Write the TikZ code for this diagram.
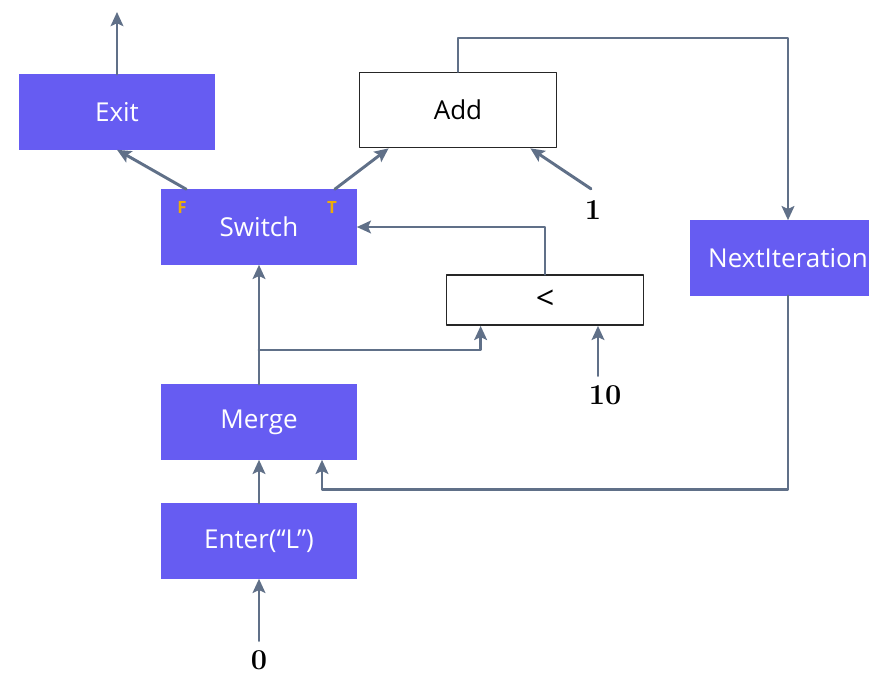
\documentclass[tikz,border=0pt]{standalone}
\usepackage{fontspec}
\setsansfont{Open Sans}
\usetikzlibrary{arrows.meta,calc}
\definecolor{opblue}{RGB}{102,92,242}
\definecolor{edgegray}{RGB}{96,112,136}
\definecolor{flaggold}{RGB}{236,172,10}
\begin{document}
\begin{tikzpicture}[x=0.025cm, y=-0.025cm, line join=round, line cap=round,
		font=\sffamily\fontsize{18.5}{22}\selectfont,
		>={Stealth[length=10pt, width=9pt, inset=2pt]},
		op/.style={fill=opblue, text=white, minimum width=4.875cm, minimum height=1.875cm, inner sep=0pt},
		box/.style={draw=black!85, line width=1.2pt, fill=white, minimum width=4.925cm, minimum height=1.875cm, inner sep=0pt},
		flag/.style={text=flaggold, font=\sffamily\bfseries\fontsize{12}{13}\selectfont, inner sep=0pt},
		num/.style={font=\rmfamily\bfseries\fontsize{20.5}{22}\selectfont, inner sep=1pt},
		edge/.style={->, draw=edgegray, line width=2.1pt}]
			\useasboundingbox (0,0) rectangle (869,685);
			% operations
			\node[op] (exit) at (117,112) {Exit};
			\node[box] (add) at (458,110) {Add};
			\node[op] (switch) at (259,227) {Switch};
			\node[flag] (fflag) at (182,207) {F};
			\node[flag] (tflag) at (332,207) {T};
			\node[op, minimum width=4.9cm] (next) at (788,258) {NextIteration};
			\node[box, minimum height=1.25cm, font=\sffamily\fontsize{23}{24}\selectfont] (less) at (545,300) {<};
			\node[op] (merge) at (259,422) {Merge};
			\node[op] (enter) at (259,541) {Enter(“L”)};
			% constants
			\node[num] (one) at (593,210) {1};
			\node[num] (ten) at (605,395) {10};
			\node[num] (zero) at (259,660) {0};
			% helper points
			\coordinate (out) at (117,12);
			\coordinate (bend) at (0,38);
			\coordinate (split) at (259,350);
			\coordinate (mergein) at ($(merge.south)+(63,0)$);
			% edges
			\draw[edge] (exit.north) -- (out);
			\draw[edge] ($(switch.north west)+(25,0)$) -- (exit.south);
			\draw[edge] ($(switch.north east)+(-22,0)$) -- ($(add.south west)+(30,0)$);
			\draw[edge] ($(one.north)+(-2,-10)$) -- ($(add.south east)+(-27,0)$);
			\draw[edge] (add.north) -- (add.north |- bend) -| (next.north);
			\draw[edge] (next.south) |- ($(mergein)+(0,30)$) -- (mergein);
			\draw[edge] ($(zero.north)+(0,-8)$) -- (enter.south);
			\draw[edge] (enter) -- (merge);
			\draw[edge] (merge) -- (switch);
			\draw[edge] (split) -| ($(less.south west)+(35,0)$);
			\draw[edge] (less.north) |- (switch.east);
			\draw[edge] ($(ten.north)+(-7,-8)$) -- ($(less.south)+(53,0)$);
		\end{tikzpicture}
\end{document}
